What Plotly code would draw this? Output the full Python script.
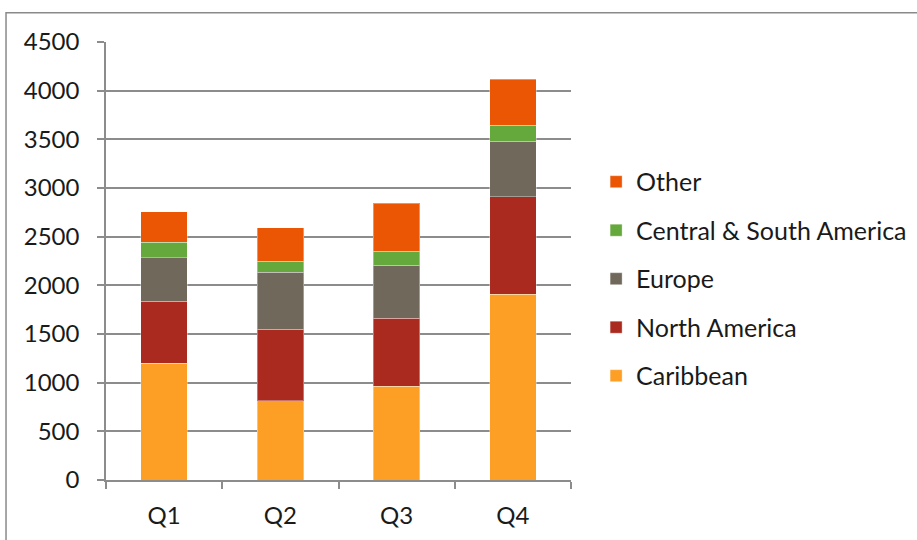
import plotly.graph_objects as go

quarters = ["Q1", "Q2", "Q3", "Q4"]
caribbean = [1200, 815, 965, 1910]
north_america = [635, 735, 695, 1000]
europe = [450, 585, 545, 570]
central_south_america = [160, 115, 145, 165]
other = [310, 340, 495, 470]

series = [
    ("Caribbean", caribbean, "#FD9F25"),
    ("North America", north_america, "#AA2A1F"),
    ("Europe", europe, "#70685A"),
    ("Central & South America", central_south_america, "#65A83B"),
    ("Other", other, "#EB5605"),
]

FONT = "Lato"
GRID = "#8C8C8C"

fig = go.Figure()
for i, (name, values, color) in enumerate(series):
    fig.add_trace(go.Bar(
        x=quarters, y=values, name=name, legendgroup=name,
        legendrank=len(series) - i,
        marker=dict(color=color, line=dict(color="rgba(255,255,255,0.35)", width=1)),
    ))

fig.update_layout(
    width=917, height=540,
    margin=dict(l=106, r=346, t=42, b=60, autoexpand=False),
    barmode="stack", bargap=0.6,
    plot_bgcolor="white", paper_bgcolor="white",
    font=dict(family=FONT, size=24, color="#1A1A1A"),
    showlegend=True,
    legend=dict(
        x=1.054, y=0.459, xanchor="left", yanchor="middle",
        traceorder="grouped", tracegroupgap=13,
        font=dict(family=FONT, size=25, color="#1A1A1A"),
        bgcolor="rgba(0,0,0,0)",
    ),
    xaxis=dict(
        type="category", showline=True, linecolor=GRID, linewidth=1.5,
        ticks="outside", ticklen=7, tickcolor=GRID, tickwidth=1.5,
        tickson="boundaries", ticklabelstandoff=13, showgrid=False,
    ),
    yaxis=dict(
        range=[0, 4500], dtick=500, showline=True, linecolor=GRID, linewidth=1.5,
        ticks="outside", ticklen=7, tickcolor=GRID, tickwidth=1.5,
        showgrid=True, gridcolor=GRID, gridwidth=1.5, zeroline=False,
        ticklabelstandoff=13,
    ),
)

# chart-area frame that runs off the right and bottom of the page
fig.add_shape(
    type="rect", xref="paper", yref="paper",
    x0=-0.215, x1=1.98, y0=-0.16, y1=1.067,
    line=dict(color="#8A8A8A", width=1.5), layer="below",
)

fig.write_html("out.html")
